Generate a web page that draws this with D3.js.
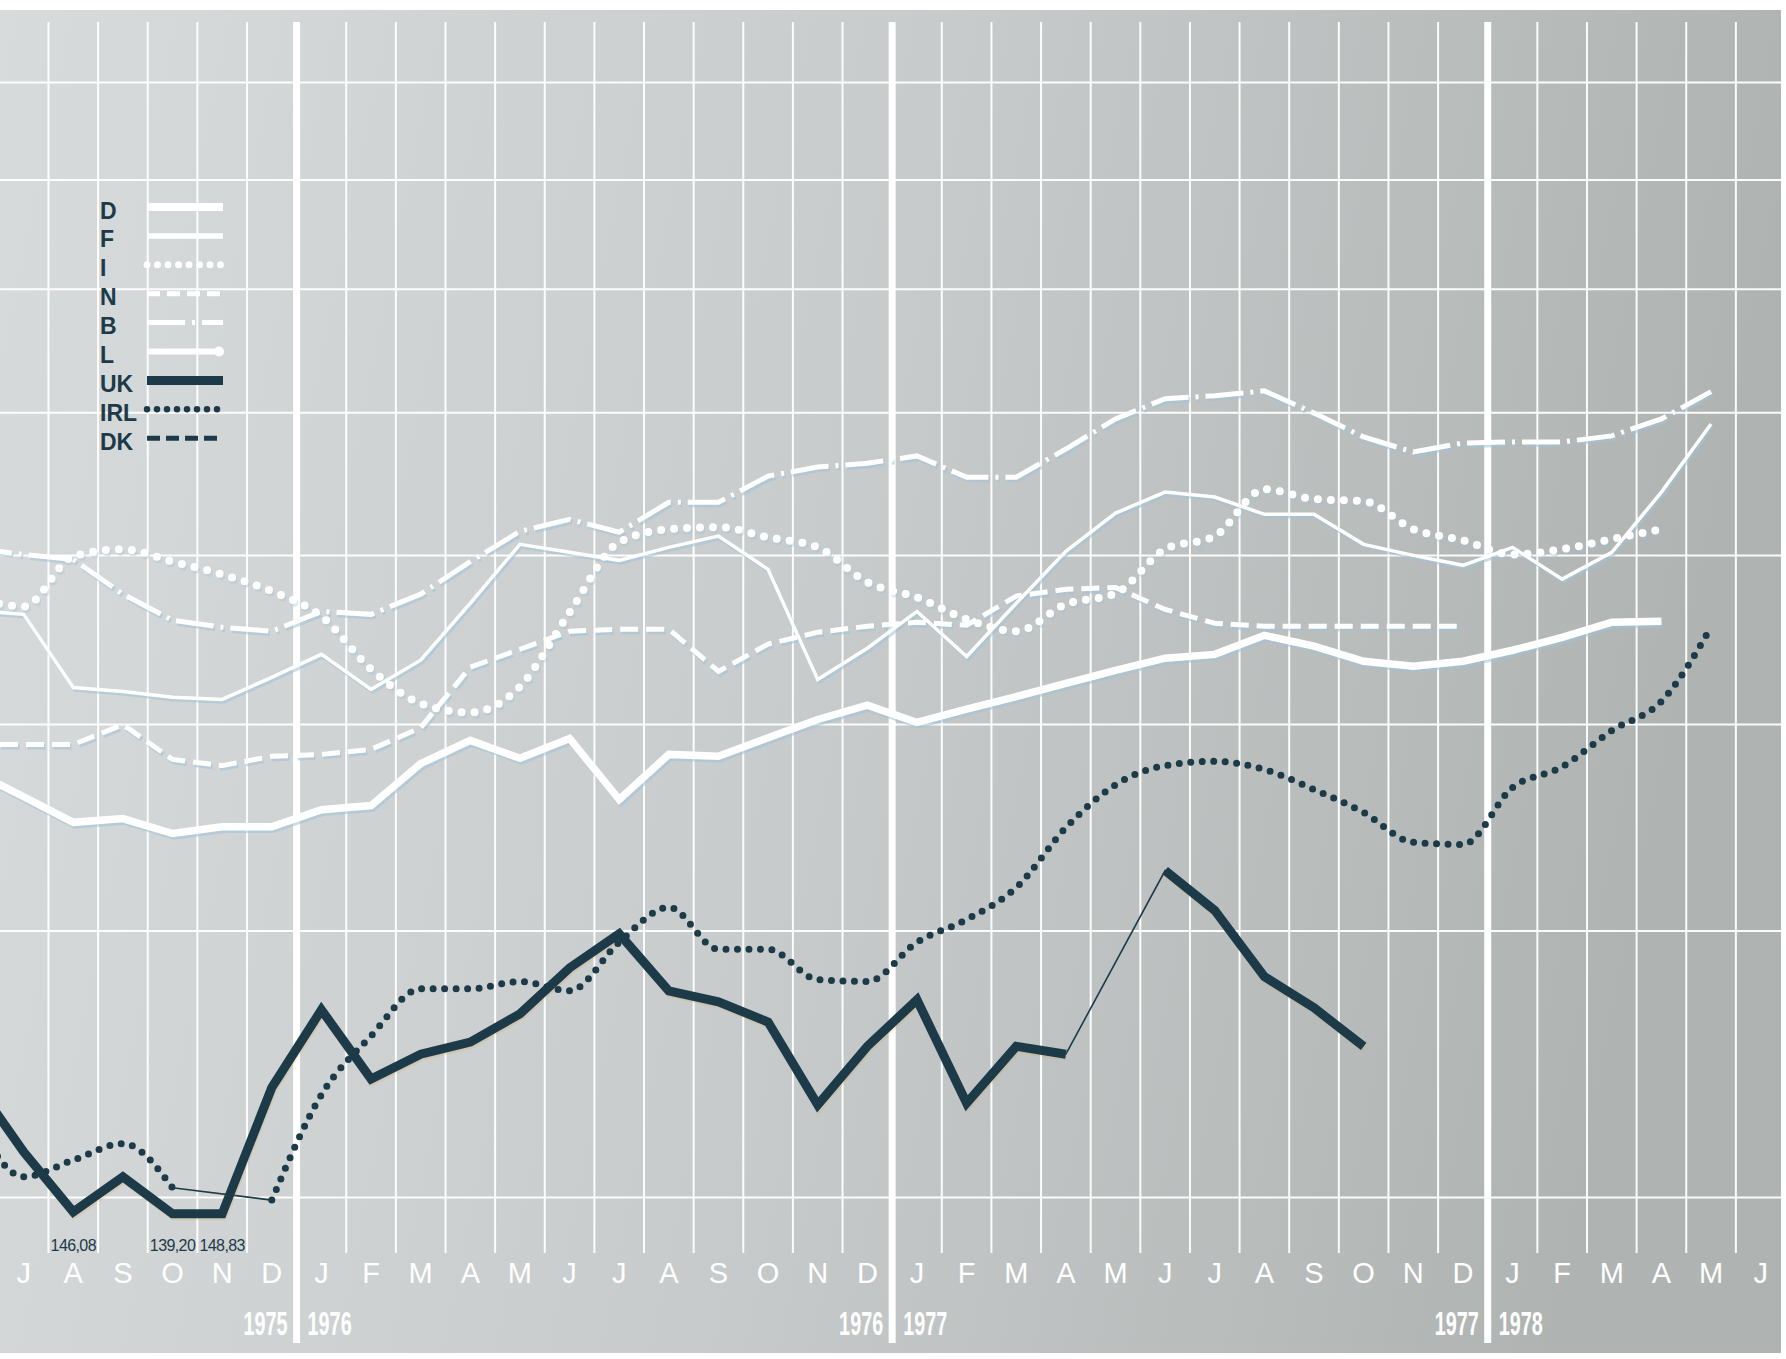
<!DOCTYPE html>
<html>
<head>
<meta charset="utf-8">
<script src="https://d3js.org/d3.v7.min.js"></script>
<style>
html,body{margin:0;padding:0;background:#ffffff;}
svg{display:block;}
text{font-family:"Liberation Sans",Arial,Helvetica,sans-serif;}
</style>
</head>
<body>
<svg id="chart" width="1786" height="1359"></svg>
<script>
// Months: June 1975 (left edge, outside frame) .. June 1978
const monthLabels = ["","J","A","S","O","N","D","J","F","M","A","M","J","J","A","S","O","N","D","J","F","M","A","M","J","J","A","S","O","N","D","J","F","M","A","M","J"];
const yearStarts = [7, 19, 31];              // index of each January
const yearLabels = ["1975","1976","1977","1978"];
const gridValues = [150,200,250,300,350,400,450,500];

const seriesD   = [237.5,231.1,224.8,225.7,222.1,223.7,223.7,227.9,228.9,239.5,245.6,240.9,246.1,230.4,241.9,241.4,246.3,251.2,255.1,250.4,254.0,257.5,261.2,264.9,268.4,269.5,275.1,271.9,267.5,266.1,267.5,270.7,274.5,279.0,279.3,null,null];
const seriesF   = [282.6,281.4,260.0,258.9,257.3,256.7,262.9,269.5,259.5,267.8,284.8,303.5,300.9,298.3,302.5,306.2,295.4,262.3,271.3,282.3,268.9,284.8,301.2,313.9,321.1,319.4,313.5,313.5,303.5,299.9,296.7,302.5,292.3,300.9,321.1,345.6,null];
const seriesI   = [286.6,283.8,299.6,301.9,297.9,293.8,288.5,280.8,265.2,255.6,253.1,260.3,282.0,304.2,308.5,309.2,305.8,302.5,291.3,286.6,279.9,276.3,284.5,287.8,301.9,306.2,322.1,318.7,318.0,308.5,304.8,300.2,301.9,305.2,308.5,null,null];
const seriesN   = [244.5,244.5,244.5,249.8,240.6,239.0,241.4,241.9,243.2,249.0,265.8,271.0,276.3,276.9,276.9,264.6,272.5,276.0,277.8,279.0,278.1,287.0,289.1,289.7,282.9,278.7,277.8,277.8,277.8,277.8,277.8,null,null,null,null,null,null];
const seriesB   = [302.2,300.2,298.6,287.6,279.6,277.5,276.3,282.3,281.4,287.6,297.9,307.8,311.8,307.5,317.6,317.6,326.7,329.9,331.3,333.9,326.3,326.3,336.4,347.5,355.2,356.3,358.2,349.7,340.8,335.3,338.6,339.0,339.0,341.2,347.5,357.9,null];
const seriesUK  = [170.0,157.5,147.6,153.3,147.3,147.3,168.8,183.6,170.4,175.0,177.3,182.8,192.1,199.3,187.4,185.2,181.2,165.7,176.5,185.6,166.0,176.5,175.0,null,213.4,204.4,190.3,184.0,176.5,null,null,null,null,null,null,null,null];
const seriesIRL = [163.6,153.3,156.1,158.9,151.5,null,149.5,167.5,178.5,187.8,187.8,189.3,187.4,197.5,205.1,196.0,196.0,189.7,189.3,197.5,202.4,209.5,223.5,234.1,239.0,240.1,238.0,232.9,227.2,220.0,219.5,233.4,238.7,248.2,256.2,277.5,null];

const legendNames = ["D","F","I","N","B","L","UK","IRL","DK"];
const annotationMonths = [2,4,5];
const annotationLabels = ["146,08","139,20","148,83"];

// ---------- styles ----------
const DARK = "#1d3a49";
const styles = {
  D:   {color:"#ffffff", width:7.5, dash:null,          curve:d3.curveLinear},
  F:   {color:"#ffffff", width:3.5, dash:null,          curve:d3.curveLinear},
  I:   {color:"#ffffff", width:8,   dash:"0 13",        curve:d3.curveMonotoneX, cap:"round", dotted:true},
  N:   {color:"#ffffff", width:5,   dash:"18 8",        curve:d3.curveLinear},
  B:   {color:"#ffffff", width:5,   dash:"38 7 3 7",    curve:d3.curveLinear},
  L:   {color:"#ffffff", width:6,   dash:null,          curve:d3.curveLinear},
  UK:  {color:DARK,      width:9,   dash:null,          curve:d3.curveLinear},
  IRL: {color:DARK,      width:7,   dash:"0 11.5",      curve:d3.curveMonotoneX, cap:"round", dotted:true},
  DK:  {color:DARK,      width:5,   dash:"13 6",        curve:d3.curveLinear}
};
const chartSeries = [
  {name:"N", values:seriesN},
  {name:"B", values:seriesB},
  {name:"I", values:seriesI},
  {name:"F", values:seriesF},
  {name:"D", values:seriesD},
  {name:"IRL", values:seriesIRL},
  {name:"UK", values:seriesUK}
];

const svg = d3.select("#chart");
const frame = {left:0, right:1781, top:10, bottom:1353};

const x = d3.scaleBand().domain(d3.range(monthLabels.length)).range([-50.8, 1785.5]).paddingInner(0).paddingOuter(0);
const cx = i => x(i) + x.bandwidth()/2;
const y = d3.scaleLog().domain([150, 500]).range([1197, 82]);

// ---------- background ----------
const defs = svg.append("defs");
const grad = defs.append("linearGradient").attr("id","bg").attr("x1","0").attr("x2","1").attr("y1","0").attr("y2","0.15");
grad.append("stop").attr("offset","0").attr("stop-color","#d8dbdb");
grad.append("stop").attr("offset","0.5").attr("stop-color","#c8cccc");
grad.append("stop").attr("offset","1").attr("stop-color","#afb4b3");
defs.append("clipPath").attr("id","clip").append("rect")
  .attr("x",frame.left).attr("y",frame.top).attr("width",frame.right-frame.left).attr("height",frame.bottom-frame.top);

svg.append("rect").attr("x",frame.left).attr("y",frame.top)
  .attr("width",frame.right-frame.left).attr("height",frame.bottom-frame.top)
  .attr("fill","url(#bg)");

// ---------- grid ----------
const grid = svg.append("g").attr("clip-path","url(#clip)");
const hGrid = grid.append("g").attr("transform",`translate(${frame.left},0)`)
  .call(d3.axisRight(y).tickValues(gridValues).tickSize(frame.right-frame.left).tickFormat(""));
hGrid.select(".domain").remove();
hGrid.selectAll(".tick line").attr("stroke","#ffffff").attr("stroke-width",2).attr("stroke-opacity",0.95);

const boundaries = d3.range(1, monthLabels.length);
grid.selectAll("line.month").data(boundaries.filter(i => !yearStarts.includes(i))).join("line")
  .attr("class","month")
  .attr("x1", i => x(i)).attr("x2", i => x(i))
  .attr("y1", 22).attr("y2", 1253)
  .attr("stroke","#ffffff").attr("stroke-width",2).attr("stroke-opacity",0.95);
grid.selectAll("line.year").data(yearStarts).join("line")
  .attr("class","year")
  .attr("x1", i => x(i)).attr("x2", i => x(i))
  .attr("y1", 22).attr("y2", 1343)
  .attr("stroke","#ffffff").attr("stroke-width",7);

// ---------- month labels (axis) ----------
const mAxis = svg.append("g").attr("transform","translate(0,1283)")
  .call(d3.axisBottom(x).tickValues(d3.range(1, monthLabels.length)).tickSize(0).tickPadding(0).tickFormat(i => monthLabels[i]));
mAxis.select(".domain").remove();
mAxis.selectAll("text").attr("y",0).attr("dy",0)
  .attr("fill","#ffffff").attr("font-size",29).attr("font-family","Liberation Sans, Arial, sans-serif");

// ---------- year labels (condensed) ----------
const yl = svg.append("g");
const yearSX = 0.6;
yearStarts.forEach((b, k) => {
  yl.append("text").attr("transform", `translate(${x(b) - 9},1335) scale(${yearSX},1)`)
    .attr("text-anchor","end").attr("font-size",33).attr("font-weight","bold").attr("fill","#ffffff")
    .text(yearLabels[k]);
  yl.append("text").attr("transform", `translate(${x(b) + 11},1335) scale(${yearSX},1)`)
    .attr("text-anchor","start").attr("font-size",33).attr("font-weight","bold").attr("fill","#ffffff")
    .text(yearLabels[k+1]);
});

// ---------- series ----------
const lines = svg.append("g").attr("clip-path","url(#clip)");
function lineGen(curve) {
  return d3.line().defined(d => d.v != null).x(d => cx(d.i)).y(d => y(d.v)).curve(curve);
}
function pts(values){ return values.map((v,i)=>({i, v})); }

// thin connectors across missing months
chartSeries.forEach(s => {
  const st = styles[s.name];
  if (st.color === DARK) {
    const defined = pts(s.values).filter(d => d.v != null);
    lines.append("path").datum(defined)
      .attr("d", lineGen(d3.curveLinear))
      .attr("fill","none").attr("stroke",DARK).attr("stroke-width",1.6)
      .attr("stroke-dasharray", st.dotted ? null : null)
      .attr("opacity", st.dotted ? 0 : 1);
  }
});
// IRL: thin connector only across its own gap
(function(){
  const d = pts(seriesIRL);
  const gapPairs = [];
  for (let i = 1; i < d.length - 1; i++) {
    if (d[i].v == null && d[i-1].v != null && d[i+1].v != null) gapPairs.push([d[i-1], d[i+1]]);
  }
  lines.selectAll("path.irlgap").data(gapPairs).join("path")
    .attr("class","irlgap")
    .attr("d", p => d3.line().x(q => cx(q.i)).y(q => y(q.v))(p))
    .attr("fill","none").attr("stroke",DARK).attr("stroke-width",1.6);
})();

// shadows (print misregistration) for non-dotted lines
chartSeries.forEach(s => {
  const st = styles[s.name];
  const white = st.color === "#ffffff";
  lines.append("path").datum(pts(s.values))
    .attr("transform", white ? "translate(1.5,2.5)" : "translate(1,2)")
    .attr("d", lineGen(st.curve))
    .attr("fill","none")
    .attr("stroke", white ? "#9fc2d8" : "#d8a648")
    .attr("stroke-opacity", st.dotted ? (white ? 0.35 : 0.0) : (white ? 0.55 : 0.22))
    .attr("stroke-width", st.width)
    .attr("stroke-dasharray", st.dash)
    .attr("stroke-linecap", st.cap || "butt")
    .attr("stroke-linejoin","miter");
});
chartSeries.forEach(s => {
  const st = styles[s.name];
  lines.append("path").datum(pts(s.values))
    .attr("d", lineGen(st.curve))
    .attr("fill","none")
    .attr("stroke", st.color)
    .attr("stroke-width", st.width)
    .attr("stroke-dasharray", st.dash)
    .attr("stroke-linecap", st.cap || "butt")
    .attr("stroke-linejoin","miter");
});

// ---------- annotations ----------
svg.append("g").selectAll("text").data(annotationMonths).join("text")
  .attr("x", i => cx(i)).attr("y", 1251).attr("text-anchor","middle")
  .attr("font-size",16).attr("fill",DARK).attr("letter-spacing",-0.6)
  .text((i,k) => annotationLabels[k]);

// ---------- legend ----------
const lg = svg.append("g");
const row0 = 210, step = 28.9;
legendNames.forEach((n, k) => {
  const st = styles[n];
  const yy = row0 + k*step;
  lg.append("text").attr("x",100).attr("y",yy+8.5)
    .attr("font-size",23).attr("font-weight","bold").attr("fill",DARK).text(n);
  lg.append("line").attr("x1",147).attr("x2",223).attr("y1",yy-3).attr("y2",yy-3)
    .attr("stroke",st.color)
    .attr("stroke-width", n==="D" ? 8 : (n==="F" ? 5.5 : (n==="I" ? 7 : (n==="IRL" ? 6.5 : st.width))))
    .attr("stroke-dasharray", n==="I" ? "0 10.5" : (n==="IRL" ? "0 10" : (n==="N" ? "13 7" : st.dash)))
    .attr("stroke-linecap", st.cap || "butt");
  if (n === "L") {
    lg.append("circle").attr("cx",219).attr("cy",yy-3).attr("r",5).attr("fill","#ffffff");
  }
});
</script>
</body>
</html>
